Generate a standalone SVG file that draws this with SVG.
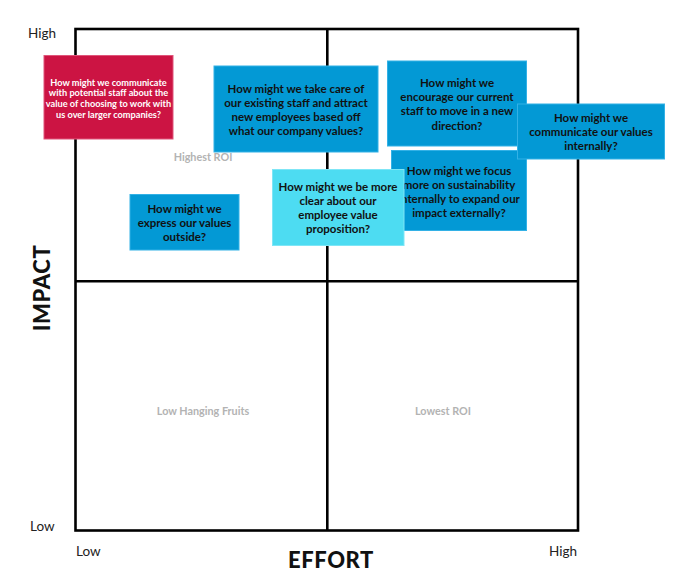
<svg xmlns="http://www.w3.org/2000/svg" width="681" height="586" viewBox="0 0 681 586">
<style>
  .axis { font-family: Lato, "Liberation Sans", sans-serif; font-size: 13.5px; fill: #222; }
  .title { font-family: Lato, "Liberation Sans", sans-serif; font-size: 22px; font-weight: 900; fill: #111; letter-spacing: 0.6px; }
  .quad { font-family: Lato, "Liberation Sans", sans-serif; font-size: 10.8px; font-weight: 700; fill: #b3b3b3; text-anchor: middle; }
  .note { stroke-width: 1; }
  .blue { fill: #0399d5; stroke: #33b1e6; }
  .cyan { fill: #4ddcf2; stroke: #7fe6f6; }
  .red { fill: #cc1443; stroke: #e0557a; }
  .nt { font-family: Lato, "Liberation Sans", sans-serif; font-size: 11.5px; font-weight: 700; fill: #111; text-anchor: middle; dominant-baseline: central; }
  .nt-red { font-family: Lato, "Liberation Sans", sans-serif; font-size: 9.2px; font-weight: 700; fill: #fff; text-anchor: middle; dominant-baseline: central; }
  .frame { fill: none; stroke: #000; stroke-width: 2.6; }
</style>
<rect width="681" height="586" fill="#fff"/>
<g id="grid">
  <rect class="frame" x="75.5" y="29" width="502.5" height="501.5"/>
  <line class="frame" x1="327.3" y1="29" x2="327.3" y2="530.5"/>
  <line class="frame" x1="75.5" y1="281.3" x2="578" y2="281.3"/>
</g>
<g id="labels">
  <text class="axis" x="28" y="38">High</text>
  <text class="axis" x="30" y="531">Low</text>
  <text class="axis" x="76" y="556">Low</text>
  <text class="axis" x="549" y="556">High</text>
  <text class="title" x="331" y="568" text-anchor="middle">EFFORT</text>
  <text class="title" transform="translate(50,288) rotate(-90)" text-anchor="middle">IMPACT</text>
  <text class="quad" x="203" y="161">Highest ROI</text>
  <text class="quad" x="203" y="415">Low Hanging Fruits</text>
  <text class="quad" x="443" y="415">Lowest ROI</text>
</g>
<g id="n-communicate-potential">
  <rect class="note red" x="44" y="55.5" width="129" height="83.5"/>
  <text class="nt-red" x="108.5" y="82">How might we communicate</text>
  <text class="nt-red" x="108.5" y="92.7">with potential staff about the</text>
  <text class="nt-red" x="108.5" y="103.3">value of choosing to work with</text>
  <text class="nt-red" x="108.5" y="114">us over larger companies?</text>
</g>
<g id="n-take-care">
  <rect class="note blue" x="214" y="66" width="164" height="86"/>
  <text class="nt" x="296" y="88">How might we take care of</text>
  <text class="nt" x="296" y="102.5">our existing staff and attract</text>
  <text class="nt" x="296" y="116.7">new employees based off</text>
  <text class="nt" x="296" y="130.7">what our company values?</text>
</g>
<g id="n-encourage">
  <rect class="note blue" x="387.5" y="61" width="139" height="85"/>
  <text class="nt" x="457" y="82">How might we</text>
  <text class="nt" x="457" y="96.7">encourage our current</text>
  <text class="nt" x="457" y="110.7">staff to move in a new</text>
  <text class="nt" x="457" y="125">direction?</text>
</g>
<g id="n-focus">
  <rect class="note blue" x="391.5" y="150.5" width="135" height="80"/>
  <text class="nt" x="459" y="170">How might we focus</text>
  <text class="nt" x="459" y="184">more on sustainability</text>
  <text class="nt" x="459" y="198.3">internally to expand our</text>
  <text class="nt" x="459" y="212">impact externally?</text>
</g>
<g id="n-communicate-internally">
  <rect class="note blue" x="517.5" y="104" width="147" height="55"/>
  <text class="nt" x="591" y="117.5">How might we</text>
  <text class="nt" x="591" y="131.7">communicate our values</text>
  <text class="nt" x="591" y="145.7">internally?</text>
</g>
<g id="n-express">
  <rect class="note blue" x="130" y="194.5" width="109" height="55.5"/>
  <text class="nt" x="184.5" y="208.5">How might we</text>
  <text class="nt" x="184.5" y="222.5">express our values</text>
  <text class="nt" x="184.5" y="236.7">outside?</text>
</g>
<g id="n-clear">
  <rect class="note cyan" x="272.5" y="169.5" width="131.5" height="76"/>
  <text class="nt" x="338" y="186">How might we be more</text>
  <text class="nt" x="338" y="200">clear about our</text>
  <text class="nt" x="338" y="214">employee value</text>
  <text class="nt" x="338" y="228.3">proposition?</text>
</g>
</svg>
